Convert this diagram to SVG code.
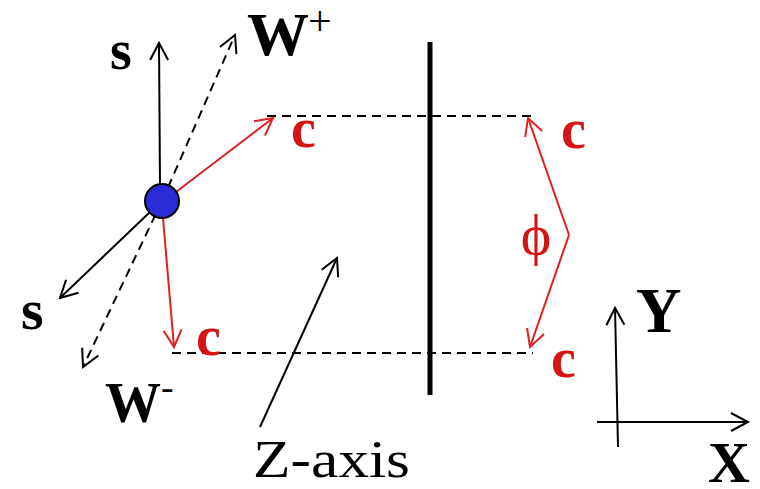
<svg xmlns="http://www.w3.org/2000/svg" width="760" height="489" viewBox="0 0 760 489">
<defs>
<style>
.k{stroke:#000;stroke-width:2;fill:none}
.r{stroke:#e02020;stroke-width:2;fill:none}
.d{stroke-dasharray:9,6}
text{font-family:'Liberation Serif','Times New Roman',Times,serif;fill:#000}
.b{font-weight:bold}
.red{fill:#d41414}
</style>
<marker id="ak" markerUnits="userSpaceOnUse" orient="auto" markerWidth="30" markerHeight="30" refX="0" refY="0" viewBox="-20 -15 30 30" overflow="visible">
<path d="M-17,-9 L0,0 L-17,9" fill="none" stroke="#000" stroke-width="2"/>
</marker>
<marker id="ar" markerUnits="userSpaceOnUse" orient="auto" markerWidth="30" markerHeight="30" refX="0" refY="0" viewBox="-20 -15 30 30" overflow="visible">
<path d="M-17,-9 L0,0 L-17,9" fill="none" stroke="#e02020" stroke-width="2"/>
</marker>
</defs>
<rect width="760" height="489" fill="#fff"/>
<g id="connectors">
<line class="k d" x1="162" y1="201" x2="235" y2="35" marker-end="url(#ak)"/>
<line class="k d" x1="162" y1="201" x2="83" y2="367" marker-end="url(#ak)"/>
<line class="k" x1="160" y1="186" x2="159" y2="43" marker-end="url(#ak)"/>
<line class="k" x1="150" y1="212" x2="60" y2="298" marker-end="url(#ak)"/>
<line class="r" x1="176" y1="192" x2="273" y2="118" marker-end="url(#ar)"/>
<line class="r" x1="163" y1="218" x2="174" y2="347" marker-end="url(#ar)"/>
<line class="k d" x1="267" y1="116" x2="533" y2="116"/>
<line class="k d" x1="172" y1="353" x2="533" y2="353"/>
<line x1="430" y1="42" x2="430" y2="395" stroke="#000" stroke-width="5"/>
<line class="r" x1="569" y1="235" x2="528" y2="118" marker-end="url(#ar)"/>
<line class="r" x1="569" y1="235" x2="530" y2="347" marker-end="url(#ar)"/>
<line class="k" x1="260" y1="427" x2="337" y2="258" marker-end="url(#ak)"/>
<line class="k" x1="618" y1="447" x2="615" y2="308" marker-end="url(#ak)"/>
<line class="k" x1="597" y1="422" x2="748" y2="422" marker-end="url(#ak)"/>
</g>
<g id="particle">
<circle cx="162" cy="201" r="17" fill="#2c2cd6" stroke="#000" stroke-width="2"/>
</g>
<g id="label-s-up"><text class="b" x="110" y="69" font-size="56">s</text></g>
<g id="label-w-plus"><text class="b" x="247" y="55" font-size="62">W</text><text x="308" y="35" font-size="42">+</text></g>
<g id="label-c-upper"><text class="b red" x="291" y="147" font-size="56">c</text></g>
<g id="label-c-right-upper"><text class="b red" x="561" y="148" font-size="56">c</text></g>
<g id="label-phi"><text class="red" x="536" y="254" font-size="58" text-anchor="middle">ϕ</text></g>
<g id="label-c-right-lower"><text class="b red" x="551" y="377" font-size="56">c</text></g>
<g id="label-c-lower"><text class="b red" x="196" y="355" font-size="56">c</text></g>
<g id="label-s-down"><text class="b" x="21" y="329" font-size="58">s</text></g>
<g id="label-w-minus"><text class="b" x="105" y="422" font-size="56">W</text><text x="161" y="400" font-size="38">-</text></g>
<g id="label-z-axis"><text x="253" y="477" font-size="52" textLength="157" lengthAdjust="spacingAndGlyphs">Z-axis</text></g>
<g id="label-y"><text class="b" x="636" y="332" font-size="63">Y</text></g>
<g id="label-x"><text class="b" x="708" y="482" font-size="58">X</text></g>
</svg>
